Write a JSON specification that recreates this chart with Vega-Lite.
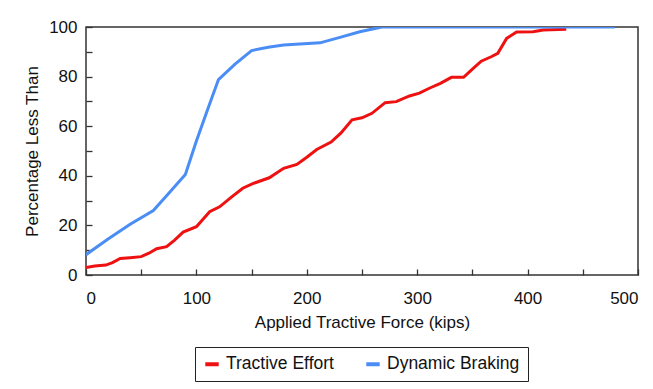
{
  "$schema": "https://vega.github.io/schema/vega-lite/v6.json",
  "width": 552,
  "height": 248,
  "autosize": {"type": "none"},
  "padding": {"left": 86, "top": 27, "right": 15, "bottom": 114},
  "background": "white",
  "config": {
    "font": "Liberation Sans",
    "view": {"stroke": "#333333", "strokeWidth": 1.5},
    "axis": {
      "grid": false,
      "domain": false,
      "tickColor": "#333333",
      "tickWidth": 1.3,
      "tickSize": -6,
      "labelColor": "#111111",
      "titleColor": "#111111",
      "labelFontSize": 17,
      "titleFontSize": 17,
      "titleFontWeight": "normal"
    }
  },
  "data": {
    "values": [
      {"series": "Tractive Effort", "x": 0, "y": 3.0},
      {"series": "Tractive Effort", "x": 8, "y": 3.6},
      {"series": "Tractive Effort", "x": 18, "y": 4.0},
      {"series": "Tractive Effort", "x": 24, "y": 5.0},
      {"series": "Tractive Effort", "x": 31, "y": 6.7},
      {"series": "Tractive Effort", "x": 40, "y": 7.0},
      {"series": "Tractive Effort", "x": 50, "y": 7.4},
      {"series": "Tractive Effort", "x": 57, "y": 8.8},
      {"series": "Tractive Effort", "x": 64, "y": 10.6},
      {"series": "Tractive Effort", "x": 73, "y": 11.4},
      {"series": "Tractive Effort", "x": 80, "y": 14.0},
      {"series": "Tractive Effort", "x": 88, "y": 17.3},
      {"series": "Tractive Effort", "x": 100, "y": 19.5},
      {"series": "Tractive Effort", "x": 106, "y": 22.5},
      {"series": "Tractive Effort", "x": 112, "y": 25.5},
      {"series": "Tractive Effort", "x": 121, "y": 27.5},
      {"series": "Tractive Effort", "x": 132, "y": 31.5},
      {"series": "Tractive Effort", "x": 142, "y": 35.0},
      {"series": "Tractive Effort", "x": 152, "y": 37.0},
      {"series": "Tractive Effort", "x": 166, "y": 39.2},
      {"series": "Tractive Effort", "x": 179, "y": 43.0},
      {"series": "Tractive Effort", "x": 191, "y": 44.6},
      {"series": "Tractive Effort", "x": 200, "y": 47.5},
      {"series": "Tractive Effort", "x": 209, "y": 50.6},
      {"series": "Tractive Effort", "x": 222, "y": 53.6},
      {"series": "Tractive Effort", "x": 231, "y": 57.3},
      {"series": "Tractive Effort", "x": 241, "y": 62.6},
      {"series": "Tractive Effort", "x": 250, "y": 63.4},
      {"series": "Tractive Effort", "x": 259, "y": 65.2},
      {"series": "Tractive Effort", "x": 271, "y": 69.5},
      {"series": "Tractive Effort", "x": 281, "y": 69.9},
      {"series": "Tractive Effort", "x": 293, "y": 72.2},
      {"series": "Tractive Effort", "x": 302, "y": 73.3},
      {"series": "Tractive Effort", "x": 311, "y": 75.3},
      {"series": "Tractive Effort", "x": 321, "y": 77.3},
      {"series": "Tractive Effort", "x": 331, "y": 79.7},
      {"series": "Tractive Effort", "x": 342, "y": 79.7},
      {"series": "Tractive Effort", "x": 350, "y": 83.0},
      {"series": "Tractive Effort", "x": 358, "y": 86.2},
      {"series": "Tractive Effort", "x": 367, "y": 88.0},
      {"series": "Tractive Effort", "x": 373, "y": 89.4},
      {"series": "Tractive Effort", "x": 381, "y": 95.4},
      {"series": "Tractive Effort", "x": 390, "y": 98.0},
      {"series": "Tractive Effort", "x": 405, "y": 98.1},
      {"series": "Tractive Effort", "x": 414, "y": 98.8},
      {"series": "Tractive Effort", "x": 435, "y": 99.1},
      {"series": "Dynamic Braking", "x": 0, "y": 8.2},
      {"series": "Dynamic Braking", "x": 20, "y": 14.5},
      {"series": "Dynamic Braking", "x": 40, "y": 20.5},
      {"series": "Dynamic Braking", "x": 61, "y": 26.0},
      {"series": "Dynamic Braking", "x": 75, "y": 33.0},
      {"series": "Dynamic Braking", "x": 90, "y": 40.5},
      {"series": "Dynamic Braking", "x": 100, "y": 54.0},
      {"series": "Dynamic Braking", "x": 110, "y": 66.5},
      {"series": "Dynamic Braking", "x": 120, "y": 78.8},
      {"series": "Dynamic Braking", "x": 135, "y": 85.0},
      {"series": "Dynamic Braking", "x": 150, "y": 90.5},
      {"series": "Dynamic Braking", "x": 165, "y": 91.8},
      {"series": "Dynamic Braking", "x": 179, "y": 92.7},
      {"series": "Dynamic Braking", "x": 212, "y": 93.6},
      {"series": "Dynamic Braking", "x": 230, "y": 95.8},
      {"series": "Dynamic Braking", "x": 248, "y": 98.1},
      {"series": "Dynamic Braking", "x": 268, "y": 100},
      {"series": "Dynamic Braking", "x": 479, "y": 100}
    ]
  },
  "mark": {"type": "line", "strokeWidth": 3, "clip": true},
  "encoding": {
    "x": {
      "field": "x",
      "type": "quantitative",
      "scale": {"domain": [0, 500], "nice": false},
      "axis": {
        "title": "Applied Tractive Force (kips)",
        "values": [0, 50, 100, 150, 200, 250, 300, 350, 400, 450, 500],
        "labelExpr": "datum.value % 100 == 0 ? datum.label : ''",
        "labelPadding": 21,
        "titlePadding": 8
      }
    },
    "y": {
      "field": "y",
      "type": "quantitative",
      "scale": {"domain": [0, 100], "nice": false},
      "axis": {
        "title": "Percentage Less Than",
        "values": [0, 10, 20, 30, 40, 50, 60, 70, 80, 90, 100],
        "labelExpr": "datum.value % 20 == 0 ? datum.label : ''",
        "labelPadding": 15,
        "titlePadding": 7
      }
    },
    "color": {
      "field": "series",
      "type": "nominal",
      "sort": ["Tractive Effort", "Dynamic Braking"],
      "scale": {"domain": ["Tractive Effort", "Dynamic Braking"], "range": ["#ee1111", "#4a8df5"]},
      "legend": {
        "title": null,
        "orient": "none",
        "legendX": 109,
        "legendY": 320,
        "direction": "horizontal",
        "strokeColor": "#222222",
        "padding": 8,
        "labelFontSize": 17.5,
        "labelColor": "#111111",
        "symbolType": "stroke",
        "symbolStrokeWidth": 4,
        "symbolSize": 180,
        "columnPadding": 24,
        "labelOffset": 5
      }
    }
  }
}
